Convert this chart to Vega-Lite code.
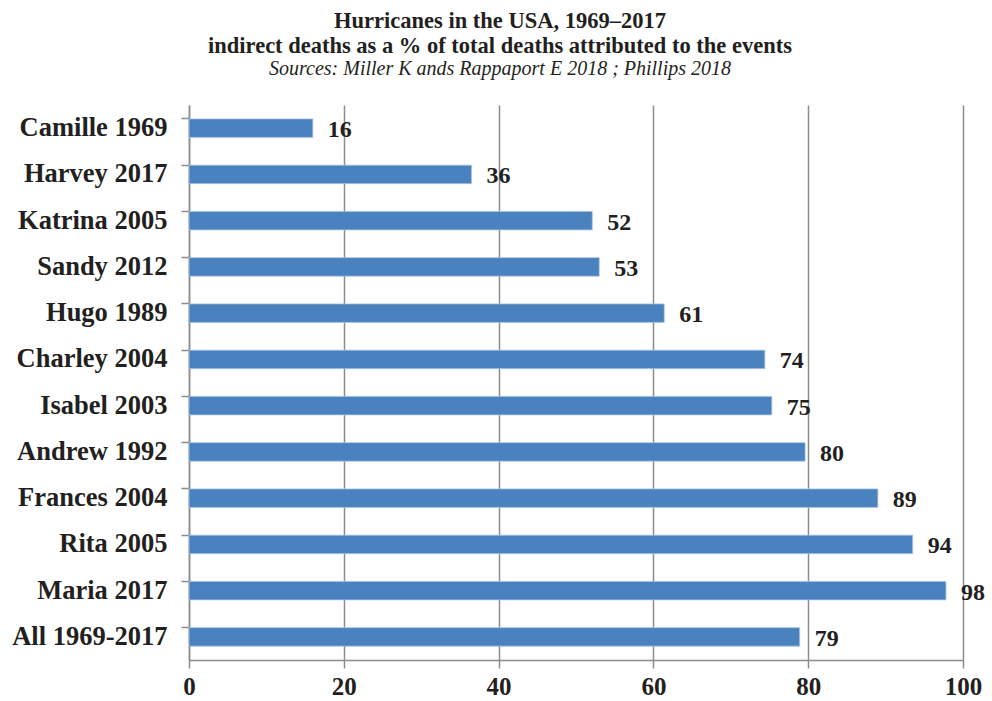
{
  "$schema": "https://vega.github.io/schema/vega-lite/v6.json",
  "width": 774,
  "height": 555,
  "autosize": {"type": "none"},
  "padding": {"left": 189, "top": 105, "right": 29, "bottom": 41},
  "background": "white",
  "title": {
    "text": ["Hurricanes in the USA, 1969–2017", "indirect deaths as a % of total deaths attributed to the events"],
    "subtitle": "Sources: Miller K ands Rappaport E 2018 ; Phillips 2018",
    "font": "Liberation Serif",
    "fontSize": 22.5,
    "fontWeight": "bold",
    "color": "#231f20",
    "lineHeight": 25,
    "subtitleFont": "Liberation Serif",
    "subtitleFontSize": 20,
    "subtitleFontStyle": "italic",
    "subtitleColor": "#231f20",
    "subtitlePadding": 2,
    "anchor": "middle",
    "dx": -76,
    "offset": 26
  },
  "data": {
    "values": [
      {"event": "Camille 1969", "value": 16.0, "label": "16"},
      {"event": "Harvey 2017", "value": 36.5, "label": "36"},
      {"event": "Katrina 2005", "value": 52.1, "label": "52"},
      {"event": "Sandy 2012", "value": 53.0, "label": "53"},
      {"event": "Hugo 1989", "value": 61.4, "label": "61"},
      {"event": "Charley 2004", "value": 74.4, "label": "74"},
      {"event": "Isabel 2003", "value": 75.3, "label": "75"},
      {"event": "Andrew 1992", "value": 79.6, "label": "80"},
      {"event": "Frances 2004", "value": 89.0, "label": "89"},
      {"event": "Rita 2005", "value": 93.5, "label": "94"},
      {"event": "Maria 2017", "value": 97.8, "label": "98"},
      {"event": "All 1969-2017", "value": 78.9, "label": "79"}
    ]
  },
  "encoding": {
    "y": {
      "field": "event",
      "type": "nominal",
      "sort": null,
      "scale": {"paddingInner": 0.6, "paddingOuter": 0.3},
      "axis": {
        "title": null,
        "bandPosition": 0,
        "labelFont": "Liberation Serif",
        "labelFontSize": 26.5,
        "labelFontWeight": "bold",
        "labelColor": "#231f20",
        "labelPadding": 14,
        "labelLimit": 300,
        "tickSize": 8,
        "tickColor": "#8c8c8c",
        "tickWidth": 1.5,
        "domainColor": "#8c8c8c",
        "domainWidth": 1.5,
        "grid": false
      }
    },
    "x": {
      "field": "value",
      "type": "quantitative",
      "scale": {"domain": [0, 100], "nice": false},
      "axis": {
        "title": null,
        "values": [0, 20, 40, 60, 80, 100],
        "labelFlush": false,
        "labelOverlap": false,
        "labelFont": "Liberation Serif",
        "labelFontSize": 25,
        "labelFontWeight": "bold",
        "labelColor": "#231f20",
        "labelPadding": 6,
        "tickSize": 8,
        "tickColor": "#8c8c8c",
        "tickWidth": 1.5,
        "domainColor": "#8c8c8c",
        "domainWidth": 1.5,
        "grid": true,
        "gridColor": "#8c8c8c",
        "gridWidth": 1.5
      }
    }
  },
  "layer": [
    {
      "mark": {"type": "bar", "color": "#4a81bf", "stroke": "#a9c4e4", "strokeWidth": 0.8}
    },
    {
      "mark": {
        "type": "text",
        "align": "left",
        "baseline": "middle",
        "dx": 15,
        "dy": 2,
        "font": "Liberation Serif",
        "fontSize": 24,
        "fontWeight": "bold",
        "color": "#231f20"
      },
      "encoding": {"text": {"field": "label"}}
    }
  ],
  "config": {"view": {"stroke": null}}
}
